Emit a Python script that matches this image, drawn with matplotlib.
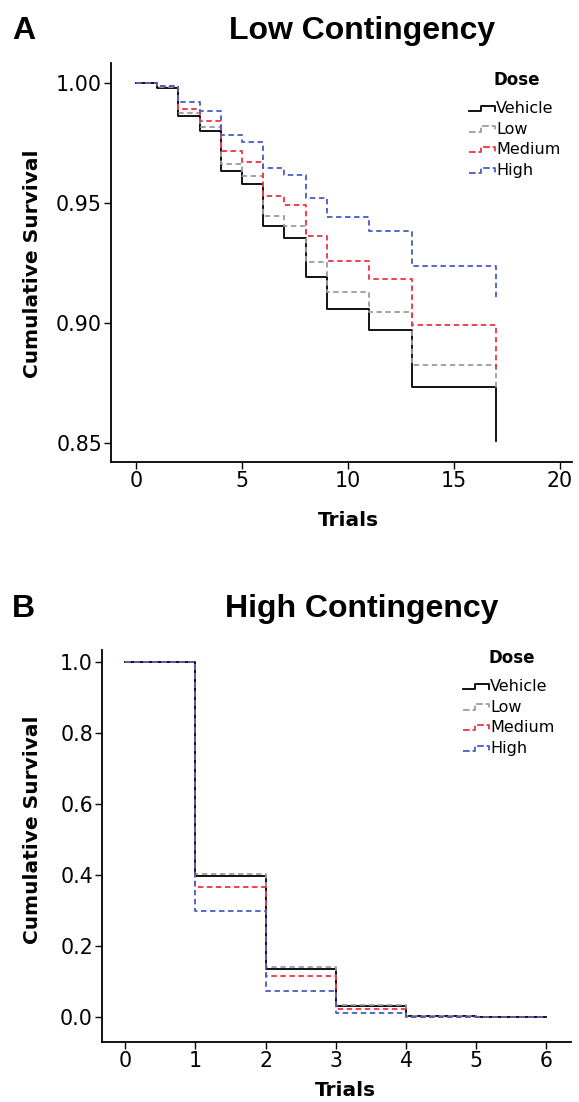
'''
Kaplan-Meier style survival curves, low vs high contingency
'''

import matplotlib
matplotlib.use('Agg')
import matplotlib.pyplot as plt
from matplotlib.legend_handler import HandlerBase
from matplotlib.lines import Line2D

# --- data ---
doses = ['Vehicle', 'Low', 'Medium', 'High']

low_trials = [0, 1, 2, 3, 4, 5, 6, 7, 8, 9, 11, 13, 17]
low_vehicle = [1.000, 0.9979, 0.9861, 0.9801, 0.9635, 0.9579, 0.9403, 0.9354, 0.9192, 0.9060, 0.8972, 0.8733, 0.8507]
low_low = [1.000, 0.9982, 0.9875, 0.9815, 0.9663, 0.9611, 0.9447, 0.9406, 0.9253, 0.9129, 0.9046, 0.8826, 0.8720]
low_medium = [1.000, 0.9989, 0.9892, 0.9843, 0.9715, 0.9671, 0.9531, 0.9493, 0.9364, 0.9257, 0.9185, 0.8993, 0.8790]
low_high = [1.000, 0.9989, 0.9919, 0.9882, 0.9785, 0.9753, 0.9646, 0.9618, 0.9521, 0.9440, 0.9385, 0.9236, 0.9097]

high_trials = [0, 1, 2, 3, 4, 5, 6]
high_vehicle = [1.0, 0.397, 0.136, 0.031, 0.002, 0.001, 0.0]
high_low = [1.0, 0.402, 0.141, 0.033, 0.002, 0.001, 0.0]
high_medium = [1.0, 0.366, 0.115, 0.023, 0.001, 0.0, 0.0]
high_high = [1.0, 0.300, 0.075, 0.012, 0.001, 0.0, 0.0]

styles = {
    'Vehicle': dict(color='black', linestyle='-', lw=1.3),
    'Low': dict(color='#9c9c9c', linestyle=(0, (3, 2)), lw=1.3),
    'Medium': dict(color='#ee3340', linestyle=(0, (3, 2)), lw=1.3),
    'High': dict(color='#4a5cc4', linestyle=(0, (3, 2)), lw=1.3),
}

W, H = 579, 1102
TICK_FONT = 'DejaVu Sans'
TITLE_FONT = 'Liberation Sans'


class StepHandler(HandlerBase):
    # little step-shaped icon like the SPSS legend
    def create_artists(self, legend, orig_handle, xdescent, ydescent,
                       width, height, fontsize, trans):
        x0 = -xdescent
        x1 = x0 + width
        yl = -ydescent + height * 0.2
        yh = -ydescent + height * 0.65
        xs = [x0, x0 + 0.45 * width, x0 + 0.45 * width, x1, x1]
        ys = [yl, yl, yh, yh, yl]
        line = Line2D(xs, ys, color=orig_handle.get_color(),
                      linestyle=orig_handle.get_linestyle(),
                      lw=orig_handle.get_linewidth())
        line.set_transform(trans)
        return [line]


def px_axes(fig, left, top, right, bottom):
    return fig.add_axes([left / W, 1 - bottom / H, (right - left) / W, (bottom - top) / H])


def survival_panel(fig, ax, trials, series, xlim, ylim, xticks, yticks, yfmt,
                   leg_x, leg_y, dose_x, dose_y):
    handles = []
    for name, vals in zip(doses, series):
        h, = ax.step(trials, vals, where='post', label=name, **styles[name])
        handles.append(h)

    ax.set_xlim(*xlim)
    ax.set_ylim(*ylim)
    ax.set_xticks(xticks)
    ax.set_yticks(yticks)
    ax.set_yticklabels([yfmt.format(v) for v in yticks])
    ax.spines['top'].set_visible(False)
    ax.spines['right'].set_visible(False)
    ax.spines['left'].set_linewidth(1.3)
    ax.spines['bottom'].set_linewidth(1.3)
    ax.tick_params(direction='out', length=5, width=1, labelsize=14.8, pad=1.5)
    for lab in ax.get_xticklabels() + ax.get_yticklabels():
        lab.set_fontfamily(TICK_FONT)

    # legend entries placed in figure pixels, title drawn on its own
    ax.legend(handles=handles, handler_map={Line2D: StepHandler()},
              loc='upper left', bbox_to_anchor=(leg_x / W, 1 - leg_y / H),
              bbox_transform=fig.transFigure,
              frameon=False, fontsize=11.5, handlelength=1.6, handletextpad=0.1,
              labelspacing=0.36, borderaxespad=0, borderpad=0)
    fig.text(dose_x / W, 1 - dose_y / H, 'Dose', fontsize=12, fontweight='bold',
             ha='center', va='center')


def main():
    fig = plt.figure(figsize=(W / 100, H / 100), dpi=100)

    # panel A
    ax1 = px_axes(fig, 111, 63, 572, 462)
    survival_panel(fig, ax1, low_trials, [low_vehicle, low_low, low_medium, low_high],
                   (-1.18, 20.57), (0.8421, 1.0083), [0, 5, 10, 15, 20],
                   [0.85, 0.90, 0.95, 1.00], '{:.2f}',
                   469, 101, 517, 80)
    fig.text(12 / W, 1 - 39 / H, 'A', fontsize=23, fontweight='bold', family=TITLE_FONT)
    fig.text(362 / W, 1 - 39 / H, 'Low Contingency', fontsize=23, fontweight='bold',
             family=TITLE_FONT, ha='center')
    fig.text(33 / W, 1 - 264 / H, 'Cumulative Survival', rotation=90, fontsize=14.5,
             fontweight='bold', ha='center', va='center')
    fig.text(348 / W, 1 - 521 / H, 'Trials', fontsize=14.5, fontweight='bold',
             ha='center', va='center')

    # panel B
    ax2 = px_axes(fig, 102, 650, 571, 1042)
    survival_panel(fig, ax2, high_trials, [high_vehicle, high_low, high_medium, high_high],
                   (-0.33, 6.35), (-0.070, 1.034), [0, 1, 2, 3, 4, 5, 6],
                   [0.0, 0.2, 0.4, 0.6, 0.8, 1.0], '{:.1f}',
                   463, 679, 512, 658)
    fig.text(12 / W, 1 - 617 / H, 'B', fontsize=23, fontweight='bold', family=TITLE_FONT)
    fig.text(362 / W, 1 - 617 / H, 'High Contingency', fontsize=23, fontweight='bold',
             family=TITLE_FONT, ha='center')
    fig.text(33 / W, 1 - 830 / H, 'Cumulative Survival', rotation=90, fontsize=14.5,
             fontweight='bold', ha='center', va='center')
    fig.text(345 / W, 1 - 1090 / H, 'Trials', fontsize=14.5, fontweight='bold',
             ha='center', va='center')

    fig.savefig('out.png', dpi=100)


if __name__ == "__main__":
    main()
